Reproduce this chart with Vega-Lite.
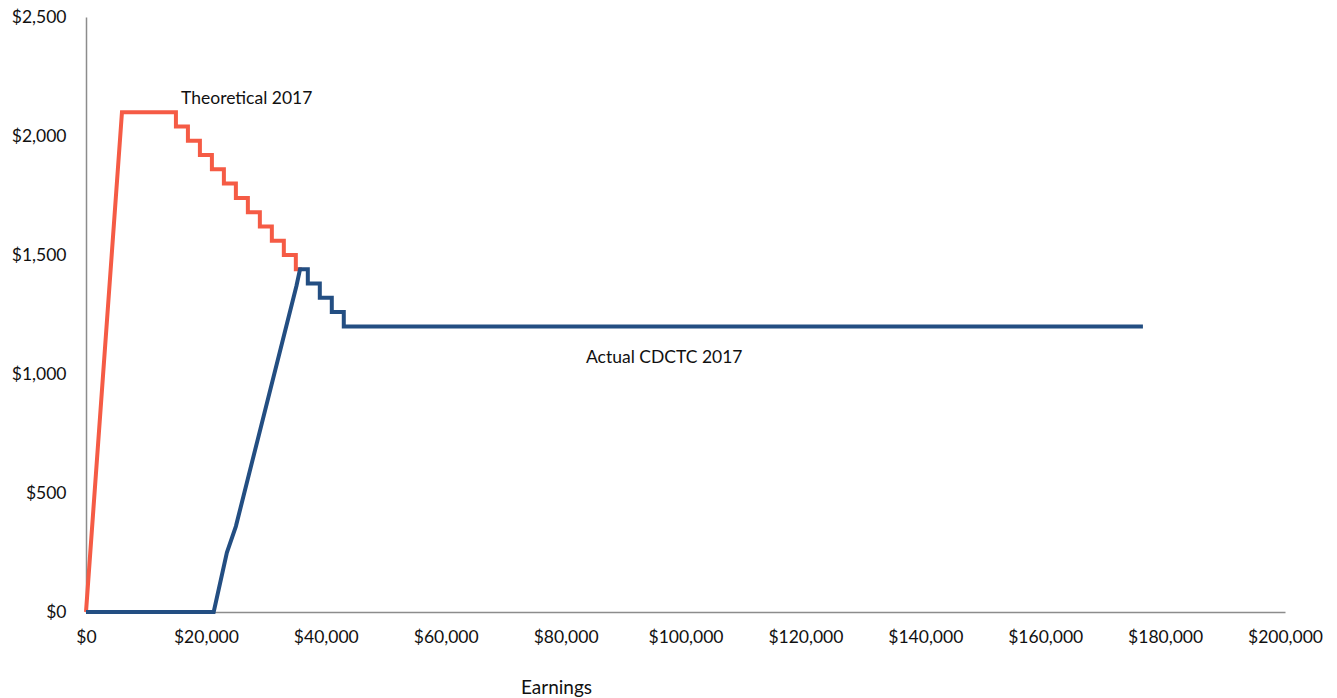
{
  "$schema": "https://vega.github.io/schema/vega-lite/v6.json",
  "width": 1199,
  "height": 595,
  "autosize": {"type": "none"},
  "padding": {"left": 86, "top": 17, "right": 52, "bottom": 86},
  "background": "white",
  "config": {
    "view": {"stroke": null},
    "font": "Lato",
    "axis": {"labelFont": "Lato", "titleFont": "Lato", "labelFontSize": 17.5, "titleFontSize": 19, "labelColor": "#111", "titleColor": "#111", "titleFontWeight": "normal", "grid": false, "ticks": false, "domainColor": "#8c8c8c", "domainWidth": 1.5}
  },
  "datasets": {
    "lines": [
      {"series": "Theoretical", "i": 0, "earn": 0, "credit": 0},
      {"series": "Theoretical", "i": 1, "earn": 6000, "credit": 2100},
      {"series": "Theoretical", "i": 2, "earn": 15000, "credit": 2100},
      {"series": "Theoretical", "i": 3, "earn": 15000, "credit": 2040},
      {"series": "Theoretical", "i": 4, "earn": 17000, "credit": 2040},
      {"series": "Theoretical", "i": 5, "earn": 17000, "credit": 1980},
      {"series": "Theoretical", "i": 6, "earn": 19000, "credit": 1980},
      {"series": "Theoretical", "i": 7, "earn": 19000, "credit": 1920},
      {"series": "Theoretical", "i": 8, "earn": 21000, "credit": 1920},
      {"series": "Theoretical", "i": 9, "earn": 21000, "credit": 1860},
      {"series": "Theoretical", "i": 10, "earn": 23000, "credit": 1860},
      {"series": "Theoretical", "i": 11, "earn": 23000, "credit": 1800},
      {"series": "Theoretical", "i": 12, "earn": 25000, "credit": 1800},
      {"series": "Theoretical", "i": 13, "earn": 25000, "credit": 1740},
      {"series": "Theoretical", "i": 14, "earn": 27000, "credit": 1740},
      {"series": "Theoretical", "i": 15, "earn": 27000, "credit": 1680},
      {"series": "Theoretical", "i": 16, "earn": 29000, "credit": 1680},
      {"series": "Theoretical", "i": 17, "earn": 29000, "credit": 1620},
      {"series": "Theoretical", "i": 18, "earn": 31000, "credit": 1620},
      {"series": "Theoretical", "i": 19, "earn": 31000, "credit": 1560},
      {"series": "Theoretical", "i": 20, "earn": 33000, "credit": 1560},
      {"series": "Theoretical", "i": 21, "earn": 33000, "credit": 1500},
      {"series": "Theoretical", "i": 22, "earn": 35000, "credit": 1500},
      {"series": "Theoretical", "i": 23, "earn": 35000, "credit": 1440},
      {"series": "Theoretical", "i": 24, "earn": 36000, "credit": 1440},
      {"series": "Actual", "i": 0, "earn": 0, "credit": 0},
      {"series": "Actual", "i": 1, "earn": 21300, "credit": 0},
      {"series": "Actual", "i": 2, "earn": 23500, "credit": 250},
      {"series": "Actual", "i": 3, "earn": 25000, "credit": 360},
      {"series": "Actual", "i": 4, "earn": 35100, "credit": 1370},
      {"series": "Actual", "i": 5, "earn": 35700, "credit": 1440},
      {"series": "Actual", "i": 6, "earn": 37000, "credit": 1440},
      {"series": "Actual", "i": 7, "earn": 37000, "credit": 1380},
      {"series": "Actual", "i": 8, "earn": 39000, "credit": 1380},
      {"series": "Actual", "i": 9, "earn": 39000, "credit": 1320},
      {"series": "Actual", "i": 10, "earn": 41000, "credit": 1320},
      {"series": "Actual", "i": 11, "earn": 41000, "credit": 1260},
      {"series": "Actual", "i": 12, "earn": 43000, "credit": 1260},
      {"series": "Actual", "i": 13, "earn": 43000, "credit": 1200},
      {"series": "Actual", "i": 14, "earn": 176300, "credit": 1200}
    ],
    "labels": [
      {"earn": 15850, "credit": 2155, "label": "Theoretical 2017"},
      {"earn": 83400, "credit": 1067, "label": "Actual CDCTC 2017"}
    ]
  },
  "layer": [
    {
      "data": {"name": "lines"},
      "mark": {"type": "line", "strokeWidth": 4, "strokeJoin": "miter", "strokeCap": "butt"},
      "encoding": {
        "x": {"field": "earn", "type": "quantitative", "scale": {"domain": [0, 200000], "nice": false},
          "axis": {"title": "Earnings", "format": "$,.0f", "values": [0, 20000, 40000, 60000, 80000, 100000, 120000, 140000, 160000, 180000, 200000], "labelBaseline": "middle", "labelPadding": 25, "titleX": 470, "titleY": 75, "titleBaseline": "middle", "titleAnchor": null, "titleAlign": "center", "labelFlush": false, "labelOverlap": false}},
        "y": {"field": "credit", "type": "quantitative", "scale": {"domain": [0, 2500], "nice": false},
          "axis": {"title": null, "format": "$,.0f", "values": [0, 500, 1000, 1500, 2000, 2500], "labelPadding": 20, "labelFlush": false}},
        "color": {"field": "series", "type": "nominal", "scale": {"domain": ["Theoretical", "Actual"], "range": ["#f55b45", "#234e82"]}, "legend": null},
        "order": {"field": "i", "type": "quantitative"}
      }
    },
    {
      "data": {"name": "labels"},
      "mark": {"type": "text", "align": "left", "baseline": "middle", "font": "Lato", "fontSize": 17.5, "color": "#111"},
      "encoding": {
        "x": {"field": "earn", "type": "quantitative"},
        "y": {"field": "credit", "type": "quantitative"},
        "text": {"field": "label"}
      }
    }
  ]
}
